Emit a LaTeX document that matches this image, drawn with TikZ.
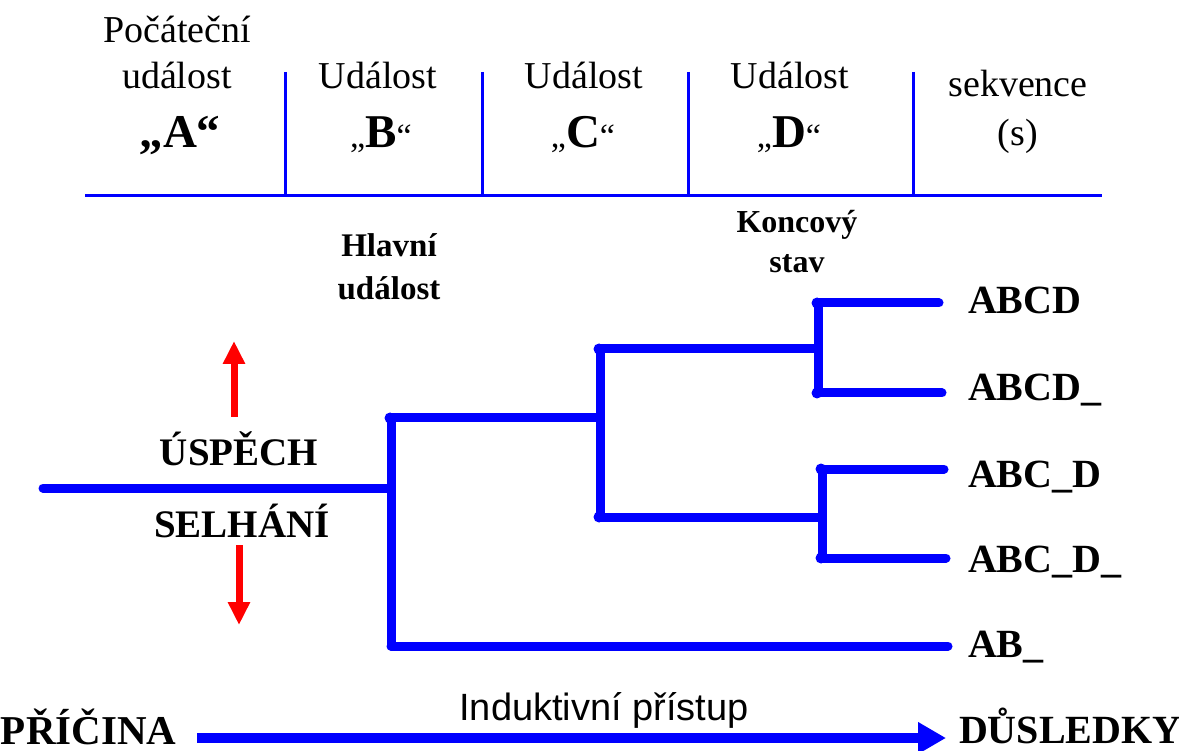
\documentclass[tikz,border=0pt]{standalone}
\usepackage{fontspec}
\setmainfont{Liberation Serif}
\newfontfamily\arialfont{Liberation Sans}
\usetikzlibrary{arrows.meta}
\definecolor{treeblue}{RGB}{0,0,255}
\definecolor{arrred}{RGB}{255,0,0}
\newcommand{\fs}[1]{\fontsize{#1}{#1}\selectfont}
\tikzset{
  txt/.style={inner sep=0pt, outer sep=0pt, anchor=base},
  hdr/.style={txt, font=\fs{38}},
  lbl/.style={txt, anchor=base west, font=\fs{40}\bfseries},
  note/.style={txt, font=\fs{33}\bfseries},
  grid/.style={draw=treeblue, line width=3pt},
  branch/.style={draw=treeblue, line width=9pt, line cap=round, line join=round},
  knot/.style={fill=treeblue},
  updown/.style={draw=arrred, line width=7pt, -{Triangle[width=21pt,length=23pt]}},
  flow/.style={draw=treeblue, line width=10pt, -{Triangle[width=30pt,length=28pt]}},
}
\begin{document}
\begin{tikzpicture}[x=1pt,y=-1pt]
\useasboundingbox (0,0) rectangle (1179,751);

% header table
\draw[grid] (85,196) -- (1102,196);
\foreach \xx in {285,482,688,913} \draw[grid] (\xx,72) -- (\xx,196);

\node[hdr] (a1) at (177,43) {Počáteční};
\node[hdr] (a2) at (177,89) {událost};
\node[txt, font=\fs{47}\bfseries] (a3) at (180,148) {„A“};
\node[hdr] (b1) at (378,89) {Událost};
\node[txt] (b2) at (381,148) {{\fs{34}„}{\fs{47}\bfseries B}{\fs{34}“}};
\node[hdr] (c1) at (584,89) {Událost};
\node[txt] (c2) at (583,148) {{\fs{34}„}{\fs{47}\bfseries C}{\fs{34}“}};
\node[hdr] (d1) at (790,89) {Událost};
\node[txt] (d2) at (789,148) {{\fs{34}„}{\fs{47}\bfseries D}{\fs{34}“}};
\node[hdr] (s1) at (1018,97) {sekvence};
\node[hdr] (s2) at (1018,146) {(s)};

% side captions
\node[note] (hl1) at (389,257) {Hlavní};
\node[note] (hl2) at (389,300) {událost};
\node[note, font=\fs{32}\bfseries] (ks1) at (797,233) {Koncový};
\node[note, font=\fs{32}\bfseries] (ks2) at (797,273) {stav};

\node[txt, font=\fs{39}\bfseries] (usp) at (239,465) {ÚSPĚCH};
\node[txt, font=\fs{39}\bfseries] (sel) at (242,537) {SELHÁNÍ};

% success / failure arrows
\coordinate (up0) at (234,417);
\coordinate (up1) at (234,341);
\coordinate (dn0) at (239,545);
\coordinate (dn1) at (239,625);
\draw[updown] (up0) -- (up1);
\draw[updown] (dn0) -- (dn1);

% event tree junctions
\coordinate (root) at (43,488);
\coordinate (b)    at (391,488);
\coordinate (bt)   at (391,418);
\coordinate (bb)   at (391,646);
\coordinate (c)    at (600,418);
\coordinate (ct)   at (600,349);
\coordinate (cb)   at (600,517);
\coordinate (dA)   at (818,349);
\coordinate (dAt)  at (818,303);
\coordinate (dAb)  at (818,393);
\coordinate (dB)   at (822,517);
\coordinate (dBt)  at (822,469);
\coordinate (dBb)  at (822,558);
\coordinate (e1)   at (939,303);
\coordinate (e2)   at (942,393);
\coordinate (e3)   at (944,469);
\coordinate (e4)   at (946,558);
\coordinate (e5)   at (948,646);

\draw[branch] (root) -- (b);
\draw[branch] (bt) -- (bb);
\draw[branch] (bt) -- (c);
\draw[branch] (ct) -- (cb);
\draw[branch] (ct) -- (dA);
\draw[branch] (dAt) -- (dAb);
\draw[branch] (dAt) -- (e1);
\draw[branch] (dAb) -- (e2);
\draw[branch] (cb) -- (dB);
\draw[branch] (dBt) -- (dBb);
\draw[branch] (dBt) -- (e3);
\draw[branch] (dBb) -- (e4);
\draw[branch] (bb) -- (e5);

\foreach \k in {bt,ct,cb,dAt,dAb,dBt,dBb}
  \fill[knot] ([xshift=-1pt]\k) circle (5.5pt);

% sequence labels
\node[lbl] (l1) at (968,314) {ABCD};
\node[lbl] (l2) at (968,401) {ABCD\_};
\node[lbl] (l3) at (968,487) {ABC\_D};
\node[lbl] (l4) at (968,572) {ABC\_D\_};
\node[lbl] (l5) at (968,657) {AB\_};

% bottom cause -> consequence arrow
\node[txt, anchor=base west, font=\fs{41}\bfseries] (cause) at (1,744) {PŘÍČINA};
\node[txt, anchor=base west, font=\fs{40}\bfseries] (effect) at (959,743) {DŮSLEDKY};
\node[txt, font=\arialfont\fs{38}] (induct) at (604,720) {Induktivní přístup};
\coordinate (fl0) at (197,738);
\coordinate (fl1) at (946,738);
\draw[flow] (fl0) -- (fl1);
\end{tikzpicture}
\end{document}
